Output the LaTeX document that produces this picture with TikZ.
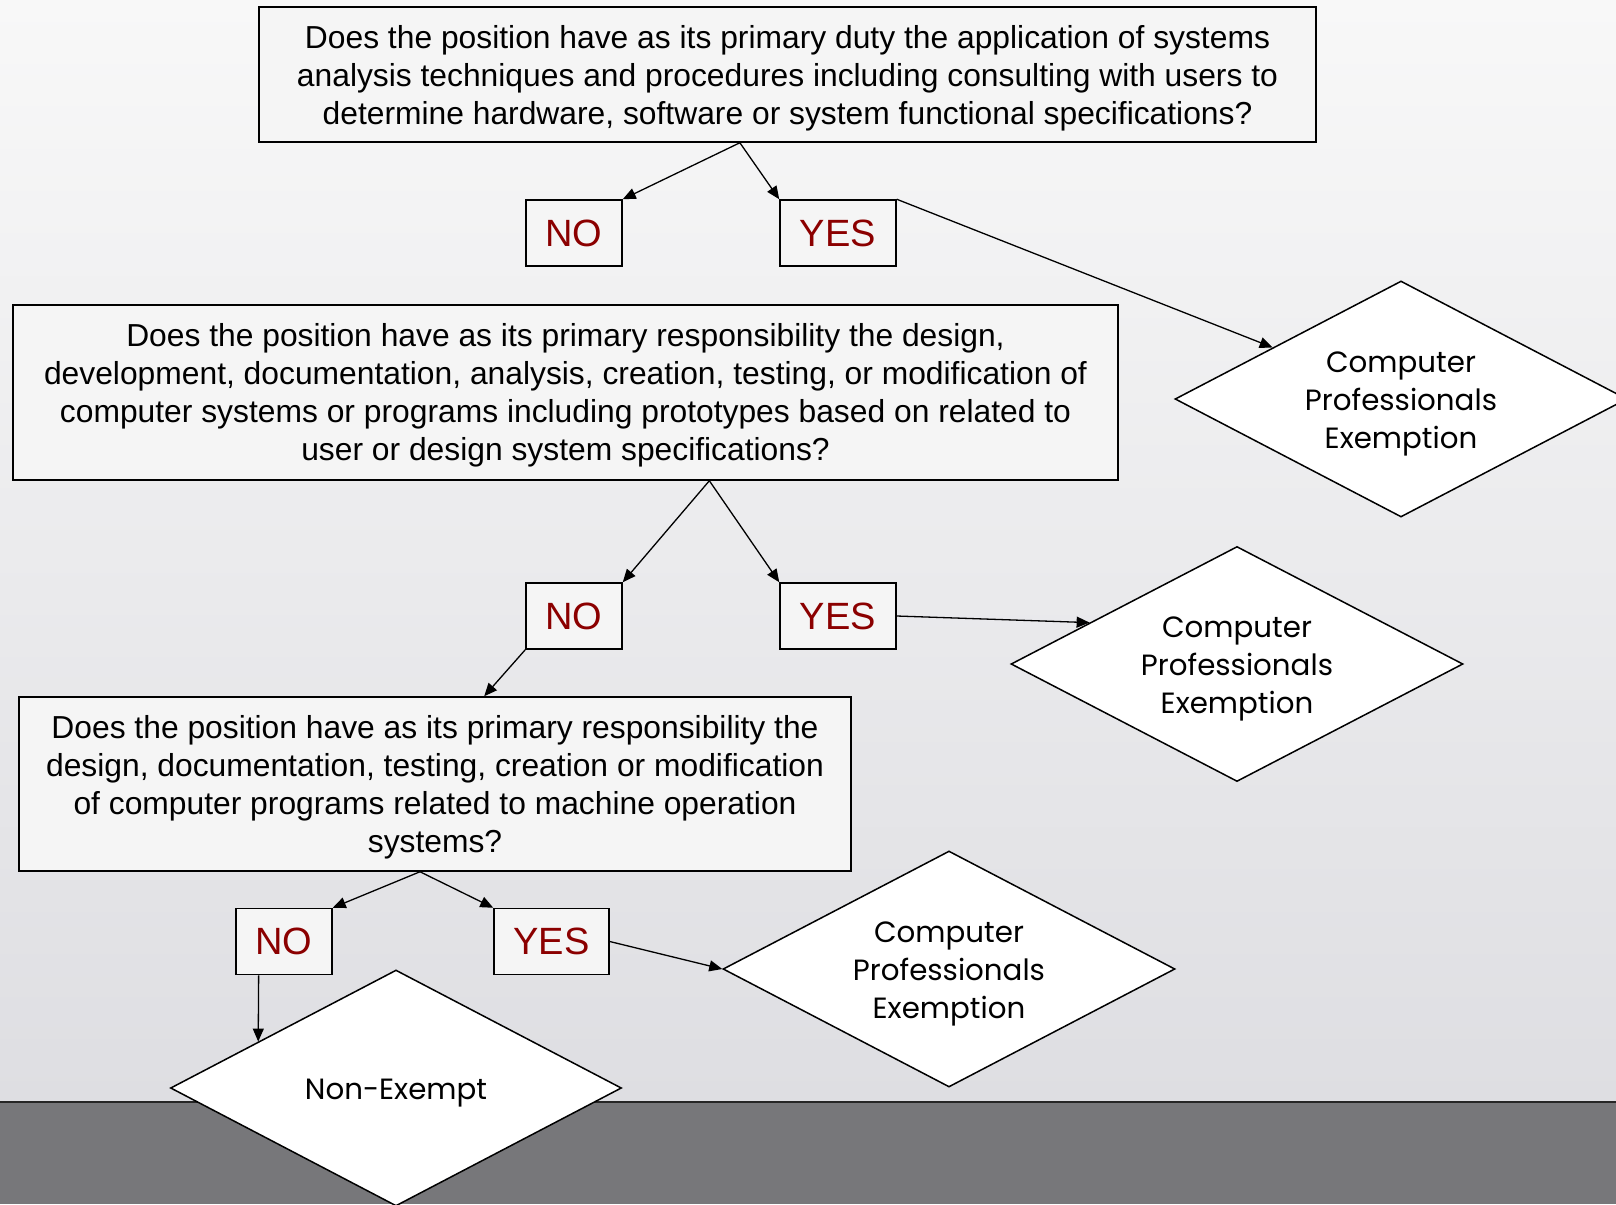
\documentclass[tikz,border=0pt]{standalone}
\usepackage{fontspec}
\setmainfont{Liberation Sans}
\newfontfamily\geofont{Poppins}
\usetikzlibrary{shapes.geometric,arrows.meta,calc}
\definecolor{wallTop}{HTML}{F8F8F8}
\definecolor{wallBot}{HTML}{DEDEE2}
\definecolor{floorC}{HTML}{77777A}
\definecolor{ansRed}{HTML}{8B0000}
\definecolor{boxFill}{HTML}{F5F5F5}
\begin{document}
\begin{tikzpicture}[x=1pt,y=-1pt,
  qbox/.style={draw=black,line width=1.5pt,fill=boxFill,inner sep=0pt,align=center,
    font=\fontsize{31.8}{38}\selectfont},
  ansbox/.style={draw=black,line width=1.5pt,fill=boxFill,inner sep=0pt,
    minimum height=66pt,text=ansRed,font=\fontsize{38}{40}\selectfont},
  dec/.style={shape=diamond,draw=black,line width=1.5pt,fill=white,inner sep=0pt,
    aspect=1.87},
  dlbl/.style={align=center,yshift=-5pt,font=\geofont\fontsize{29.3}{38}\selectfont},
  conn/.style={draw=black,line width=1.3pt,-{Triangle[length=13pt,width=11pt]}}]
\useasboundingbox (0,0) rectangle (1616,1204);
% background
\shade[top color=wallTop,bottom color=wallBot] (0,0) rectangle (1616,1102);
\fill[floorC] (0,1102) rectangle (1616,1204);
\draw[line width=2.5pt,black!85] (0,1102) -- (1616,1102);

% question boxes
\node[qbox,minimum width=1057pt,minimum height=135pt] (q1) at (787.5,74.5)
  {\rule{0pt}{30pt}Does the position have as its primary duty the application of systems\\
   analysis techniques and procedures including consulting with users to\\
   determine hardware, software or system functional specifications?};
\node[qbox,minimum width=1105pt,minimum height=175pt] (q2) at (565.5,392.5)
  {\rule{0pt}{29pt}Does the position have as its primary responsibility the design,\\
   development, documentation, analysis, creation, testing, or modification of\\
   computer systems or programs including prototypes based on related to\\
   user or design system specifications?};
\node[qbox,minimum width=832pt,minimum height=174pt] (q3) at (435,784)
  {\rule{0pt}{29pt}Does the position have as its primary responsibility the\\
   design, documentation, testing, creation or modification\\
   of computer programs related to machine operation\\
   systems?};

% answer boxes
\node[ansbox,minimum width=96pt] (no1) at (574,233) {NO};
\node[ansbox,minimum width=116pt] (yes1) at (838,233) {YES};
\node[ansbox,minimum width=96pt] (no2) at (574,616) {NO};
\node[ansbox,minimum width=116pt] (yes2) at (838,616) {YES};
\node[ansbox,minimum width=96pt] (no3) at (284,941.5) {NO};
\node[ansbox,minimum width=115pt] (yes3) at (551.5,941.5) {YES};

% decision diamonds
\node[dec,minimum width=452pt,minimum height=236pt,
  label={[dlbl]center:Computer\\Professionals\\Exemption}] (d1) at (1401,399) {};
\node[dec,minimum width=452pt,minimum height=235pt,
  label={[dlbl]center:Computer\\Professionals\\Exemption}] (d2) at (1237,664) {};
\node[dec,minimum width=452pt,minimum height=236pt,
  label={[dlbl]center:Computer\\Professionals\\Exemption}] (d3) at (949,969) {};
\node[dec,minimum width=451pt,minimum height=236pt,
  label={[dlbl]center:Non-Exempt}] (d4) at (396,1088) {};

% connector points
\coordinate (q1s) at ($(q1.south west)!0.455!(q1.south east)$);
\coordinate (q2s) at ($(q2.south west)!0.63!(q2.south east)$);
\coordinate (q3n) at ($(q3.north west)!0.559!(q3.north east)$);
\coordinate (q3s) at ($(q3.south west)!0.482!(q3.south east)$);
\coordinate (d1in) at ($(d1.west)!0.434!(d1.north)$);
\coordinate (d2in) at ($(d2.west)!0.35!(d2.north)$);
\coordinate (no3s) at ($(no3.south west)!0.24!(no3.south east)$);
\coordinate (d4in) at ($(d4.west)!0.391!(d4.north)$);

% connectors
\draw[conn] (q1s) -- (no1.north east);
\draw[conn] (q1s) -- (yes1.north west);
\draw[conn] (yes1.north east) -- (d1in);
\draw[conn] (q2s) -- (no2.north east);
\draw[conn] (q2s) -- (yes2.north west);
\draw[conn] (no2.south west) -- (q3n);
\draw[conn] (yes2.east) -- (d2in);
\draw[conn] (q3s) -- (no3.north east);
\draw[conn] (q3s) -- (yes3.north west);
\draw[conn] (yes3.east) -- (d3.west);
\draw[conn] (no3s) -- (d4in);
\end{tikzpicture}
\end{document}
